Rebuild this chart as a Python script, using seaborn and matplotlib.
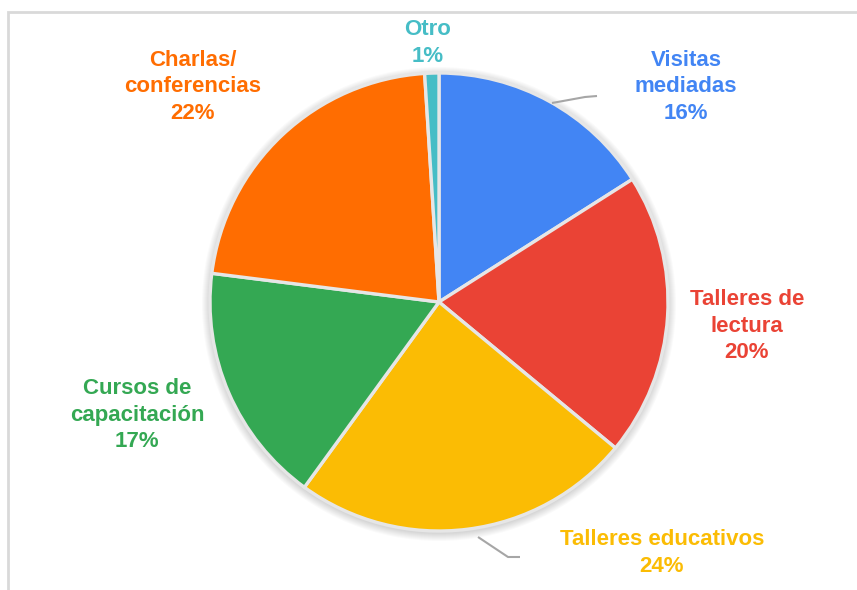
#!/usr/bin/env python3
"""Gráfico de torta: tipos de actividades."""

import matplotlib.pyplot as plt
import seaborn as sns
from matplotlib.patches import Circle, Rectangle

CATEGORIAS = [
    "Visitas\nmediadas",
    "Talleres de\nlectura",
    "Talleres educativos",
    "Cursos de\ncapacitación",
    "Charlas/\nconferencias",
    "Otro",
]
PORCENTAJES = [16, 20, 24, 17, 22, 1]
COLORES = ["#4285F4", "#EA4335", "#FBBC04", "#34A853", "#FF6D01", "#46BDC6"]

# layout en pixeles (y hacia abajo)
W, H = 857, 590
CENTRO = (439, 302)
RADIO = 229
POS_ETIQUETAS = [(686, 87), (747, 326), (662, 553), (137, 415), (193, 87), (428, 43)]
GUIAS = {
    0: [(552, 103), (585, 97), (597, 96)],
    2: [(478, 537), (508, 557), (520, 557)],
}


def main() -> None:
    sns.set_theme(style="white")
    plt.rcParams["font.family"] = ["Liberation Sans", "DejaVu Sans"]

    fig = plt.figure(figsize=(W / 100, H / 100), dpi=100)
    ax = fig.add_axes([0, 0, 1, 1])

    cx, cy = CENTRO[0], H - CENTRO[1]

    # sombra suave
    for k in range(1, 9):
        ax.add_patch(Circle((cx, cy - 2), RADIO + k, color="black",
                            alpha=0.018, lw=0, zorder=0))

    paleta = sns.color_palette(COLORES)
    ax.pie(
        PORCENTAJES,
        colors=paleta,
        startangle=90,
        counterclock=False,
        center=(cx, cy),
        radius=RADIO,
        wedgeprops=dict(edgecolor="#e6e6e6", linewidth=2.4),
        frame=True,
    )
    ax.set_xlim(0, W)
    ax.set_ylim(0, H)
    ax.set_aspect("equal")
    ax.axis("off")

    for i, (cat, pct) in enumerate(zip(CATEGORIAS, PORCENTAJES)):
        x, y = POS_ETIQUETAS[i]
        ax.text(x, H - y, f"{cat}\n{pct}%", color=COLORES[i], fontsize=16,
                fontweight="bold", ha="center", va="center",
                multialignment="center", linespacing=1.34)

    for pts in GUIAS.values():
        xs = [p[0] for p in pts]
        ys = [H - p[1] for p in pts]
        ax.plot(xs, ys, color="#a6a6a6", lw=1.5, solid_capstyle="butt")

    # marco del gráfico
    ax.add_patch(Rectangle((8, -20), 900, H - 12 + 20, fill=False,
                           edgecolor="#d9d9d9", lw=2, clip_on=False))

    fig.savefig("out.png", dpi=100)
    plt.close(fig)


if __name__ == "__main__":
    main()
